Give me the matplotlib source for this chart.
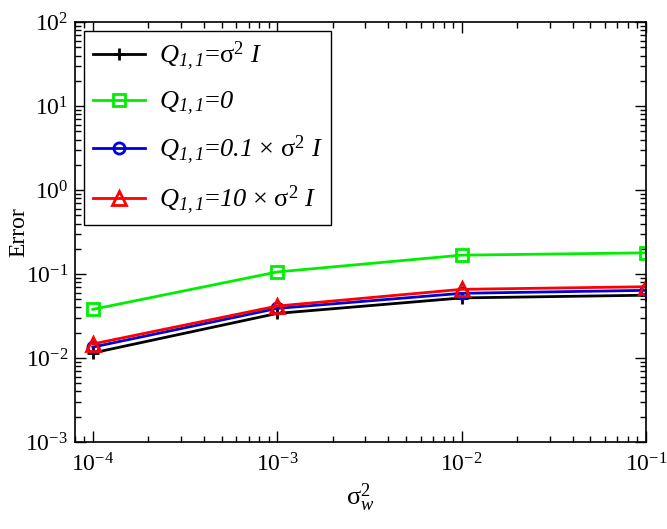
import matplotlib
matplotlib.use("Agg")
import matplotlib.pyplot as plt
from matplotlib.ticker import LogLocator, NullFormatter

plt.rcParams['font.family'] = ['Liberation Serif', 'DejaVu Serif']
plt.rcParams['axes.unicode_minus'] = False
plt.rcParams['mathtext.fontset'] = 'custom'
# 'rm' set to italic so digits in math come out italic like the reference;
# 'sf' holds the upright serif for sigma.
plt.rcParams['mathtext.rm'] = 'Liberation Serif:italic'
plt.rcParams['mathtext.it'] = 'Liberation Serif:italic'
plt.rcParams['mathtext.sf'] = 'Liberation Serif'
plt.rcParams['mathtext.bf'] = 'Liberation Serif:bold'

sigma_w2 = [1e-4, 1e-3, 1e-2, 1e-1]
err_sigma2 = [0.0115, 0.034, 0.052, 0.056]
err_zero = [0.038, 0.106, 0.168, 0.179]
err_01 = [0.0135, 0.039, 0.059, 0.064]
err_10 = [0.0147, 0.0416, 0.0658, 0.0707]

labels = [
    r'$Q_{1,1}$=$\mathsf{\sigma}^{\mathsf{2}}$ $I$',
    r'$Q_{1,1}$=$0$',
    r'$Q_{1,1}$=$0.1$ × $\mathsf{\sigma}^{\mathsf{2}}$ $I$',
    r'$Q_{1,1}$=$10$ × $\mathsf{\sigma}^{\mathsf{2}}$ $I$',
]

fig = plt.figure(figsize=(6.67, 5.29), dpi=100)
ax = fig.add_axes([0.1124, 0.1645, 0.856, 0.7935])

ax.plot(sigma_w2, err_sigma2, color='black', lw=2, marker='+', ms=9, mew=2, label=labels[0])
ax.plot(sigma_w2, err_zero, color='#00ee00', lw=2, marker='s', ms=9, mfc='none', mew=2, label=labels[1])
ax.plot(sigma_w2, err_01, color='#0000dd', lw=2, marker='o', ms=8, mfc='none', mew=2, label=labels[2])
ax.plot(sigma_w2, err_10, color='red', lw=2, marker='^', ms=10, mfc='none', mew=2, label=labels[3])

ax.set_xscale('log')
ax.set_yscale('log')
ax.set_xlim(8e-5, 1e-1)
ax.set_ylim(1e-3, 1e2)

ax.xaxis.set_major_locator(LogLocator(base=10, numticks=10))
ax.xaxis.set_minor_locator(LogLocator(base=10, subs=range(2, 10), numticks=20))
ax.yaxis.set_major_locator(LogLocator(base=10, numticks=10))
ax.yaxis.set_minor_locator(LogLocator(base=10, subs=range(2, 10), numticks=20))
ax.xaxis.set_minor_formatter(NullFormatter())
ax.yaxis.set_minor_formatter(NullFormatter())

ax.tick_params(which='both', direction='in', top=True, right=True, labelsize=17, width=1)
ax.tick_params(which='major', length=8)
ax.tick_params(axis='x', which='major', pad=8)
ax.tick_params(axis='y', which='major', pad=5)
ax.tick_params(which='minor', length=4)
for s in ax.spines.values():
    s.set_linewidth(1.2)

ax.set_xlabel(r'$\mathsf{\sigma}_{w}^{\mathsf{2}}$', fontsize=19, labelpad=4)
ax.set_ylabel('Error', fontsize=17)
ax.yaxis.set_label_coords(-0.08, 0.5)

leg = ax.legend(loc='upper left', fontsize=19, frameon=True, fancybox=False,
                edgecolor='black', framealpha=1, handlelength=2.0, handletextpad=0.5,
                borderaxespad=0.35, labelspacing=0.63, borderpad=0.32)
leg.get_frame().set_linewidth(1.0)

fig.savefig('out.png', dpi=100)
